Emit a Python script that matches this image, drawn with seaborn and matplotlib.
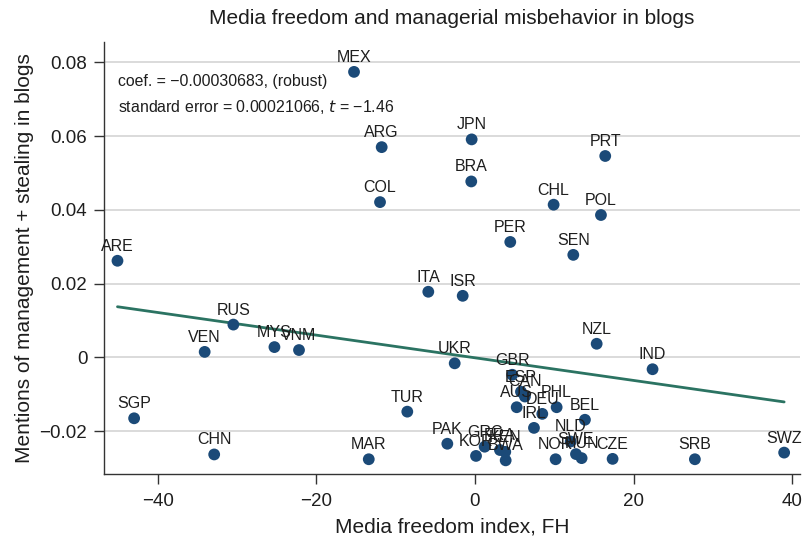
import numpy as np
import pandas as pd
import matplotlib
matplotlib.use("Agg")
import matplotlib.pyplot as plt
import seaborn as sns

# Country codes, media freedom index (FH) and share of blog mentions
countries = ["MEX", "ARG", "JPN", "BRA", "PRT", "COL", "CHL", "POL", "PER", "SEN",
             "ARE", "ITA", "ISR", "RUS", "VEN", "MYS", "VNM", "NZL", "IND", "UKR",
             "GBR", "ESP", "CAN", "AUS", "DEU", "PHL", "IRL", "BEL", "NLD", "SWE",
             "HUN", "NOR", "CZE", "SRB", "SWZ", "SGP", "TUR", "CHN", "MAR", "PAK",
             "KOR", "GRC", "FRA", "KEN", "BWA"]
media_freedom = [-15.26, -11.77, -0.42, -0.47, 16.43, -11.98, 9.92, 15.89, 4.45, 12.40,
                 -45.1, -5.89, -1.55, -30.48, -34.1, -25.3, -22.2, 15.35, 22.4, -2.56,
                 4.7, 5.8, 6.3, 5.26, 8.49, 10.3, 7.44, 13.87, 12.07, 12.74,
                 13.45, 10.17, 17.36, 27.74, 39.0, -43.0, -8.54, -32.9, -13.4, -3.49,
                 0.13, 1.22, 3.15, 3.82, 3.87]
mentions = [0.0774, 0.0570, 0.0591, 0.0477, 0.0546, 0.0421, 0.0414, 0.0386, 0.0313, 0.0278,
            0.0262, 0.0178, 0.0167, 0.0089, 0.0015, 0.0028, 0.0020, 0.0037, -0.0032, -0.0016,
            -0.0047, -0.0093, -0.0106, -0.0135, -0.0153, -0.0135, -0.0191, -0.0169, -0.0228, -0.0262,
            -0.0273, -0.0276, -0.0275, -0.0276, -0.0258, -0.0165, -0.0147, -0.0263, -0.0276, -0.0234,
            -0.0267, -0.0242, -0.0251, -0.0256, -0.0279]

# Robust regression estimates
coef = -0.00030683
std_err = 0.00021066
t_stat = -1.46
intercept = -0.0001

x_ticks = [-40, -20, 0, 20, 40]
x_tick_labels = ["\u221240", "\u221220", "0", "20", "40"]
y_ticks = [-0.02, 0, 0.02, 0.04, 0.06, 0.08]
y_tick_labels = ["\u22120.02", "0", "0.02", "0.04", "0.06", "0.08"]

df = pd.DataFrame({"country": countries, "fh": media_freedom, "mentions": mentions})
x_fit = np.array([df["fh"].min(), df["fh"].max()])
fit = pd.DataFrame({"fh": x_fit, "mentions": intercept + coef * x_fit})

sns.set_theme(style="white")
plt.rcParams["font.family"] = ["Liberation Sans", "DejaVu Sans"]

point_color = "#1b4a78"
line_color = "#2b7362"
text_color = "#1e1e1e"

fig = plt.figure(figsize=(8.04, 5.39), dpi=100)
ax = fig.add_axes([104 / 804, 65 / 539, 696 / 804, 432 / 539])

ax.set_xlim(-46.8, 41.0)
ax.set_ylim(-0.0316, 0.0855)

for yv in y_ticks:
    ax.axhline(yv, color="#d4d4d4", lw=1.2, zorder=0)

sns.lineplot(data=fit, x="fh", y="mentions", ax=ax, color=line_color, lw=2.0, zorder=2)
sns.scatterplot(data=df, x="fh", y="mentions", ax=ax, color=point_color, s=72,
                edgecolor="none", zorder=3)

for _, row in df.iterrows():
    ax.annotate(row["country"], (row["fh"], row["mentions"]), xytext=(0, 10.5),
                textcoords="offset points", ha="center", va="center",
                fontsize=11.5, color=text_color, zorder=4)

ax.text(0.02, 0.908, f"coef. = \u2212{abs(coef):.8f}, (robust)", transform=ax.transAxes,
        fontsize=11.4, color=text_color, va="center", ha="left")
ax.text(0.02, 0.849, f"standard error = {std_err:.8f}, $t$ = \u2212{abs(t_stat):.2f}",
        transform=ax.transAxes, fontsize=11.4, color=text_color, va="center", ha="left")

ax.set_xticks(x_ticks)
ax.set_xticklabels(x_tick_labels)
ax.set_yticks(y_ticks)
ax.set_yticklabels(y_tick_labels)
ax.tick_params(axis="both", direction="out", length=7, width=1, color="#333333",
               labelsize=13.5, labelcolor=text_color, bottom=True, left=True)
ax.tick_params(axis="x", pad=7)
ax.tick_params(axis="y", pad=5)

for side in ["top", "right"]:
    ax.spines[side].set_visible(False)
for side in ["left", "bottom"]:
    ax.spines[side].set_color("#333333")
    ax.spines[side].set_linewidth(1)

ax.set_xlabel("Media freedom index, FH", fontsize=15, color=text_color, labelpad=5)
ax.set_ylabel("Mentions of management + stealing in blogs", fontsize=15, color=text_color,
              labelpad=4)
ax.set_title("Media freedom and managerial misbehavior in blogs", fontsize=15,
             color=text_color, pad=13)

fig.savefig("out.png", dpi=100)
